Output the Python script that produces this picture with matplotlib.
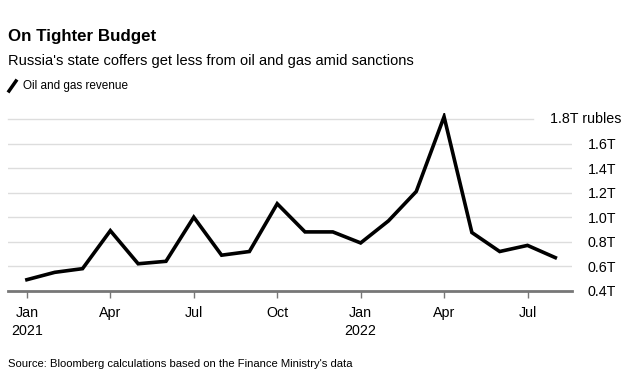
import matplotlib
matplotlib.use("Agg")
import matplotlib.pyplot as plt
from matplotlib.lines import Line2D

plt.rcParams['font.family'] = ['Liberation Sans', 'DejaVu Sans']

# Ingresos mensuales de petróleo y gas (billones de rublos), ene 2021 - ago 2022
meses = ['Jan 2021', 'Feb 2021', 'Mar 2021', 'Apr 2021', 'May 2021', 'Jun 2021',
         'Jul 2021', 'Aug 2021', 'Sep 2021', 'Oct 2021', 'Nov 2021', 'Dec 2021',
         'Jan 2022', 'Feb 2022', 'Mar 2022', 'Apr 2022', 'May 2022', 'Jun 2022',
         'Jul 2022', 'Aug 2022']
ingresos = [0.49, 0.55, 0.58, 0.89, 0.62, 0.64, 1.00, 0.69, 0.72, 1.11,
            0.88, 0.88, 0.79, 0.97, 1.21, 1.82, 0.875, 0.72, 0.77, 0.67]

ticks_x = [0, 3, 6, 9, 12, 15, 18]
etiquetas_x = ['Jan\n2021', 'Apr', 'Jul', 'Oct', 'Jan\n2022', 'Apr', 'Jul']
ticks_y = [0.4, 0.6, 0.8, 1.0, 1.2, 1.4, 1.6]
etiquetas_y = ['0.4T', '0.6T', '0.8T', '1.0T', '1.2T', '1.4T', '1.6T']

fig = plt.figure(figsize=(6.32, 3.87), dpi=100)
ax = fig.add_axes([8 / 632, 0.2488, 564 / 632, 0.459])

x = list(range(len(ingresos)))
ax.plot(x, ingresos, color='black', lw=2.6, solid_joinstyle='miter', zorder=3)

ax.set_xlim(-0.68, 19.6)
ax.set_ylim(0.4, 1.85)

# lineas de cuadricula
for v in ticks_y[1:]:
    ax.axhline(v, color='#dddddd', lw=1, zorder=1)
ax.plot([-0.68, 18.2], [1.8, 1.8], color='#dddddd', lw=1, zorder=1, clip_on=False)

for s in ['top', 'right', 'left']:
    ax.spines[s].set_visible(False)
ax.spines['bottom'].set_color('#777777')
ax.spines['bottom'].set_linewidth(2)

ax.set_xticks(ticks_x)
ax.set_xticklabels(etiquetas_x, fontsize=10.3, linespacing=1.35)
ax.tick_params(axis='x', length=5, width=1, color='#777777', pad=6)

ax.yaxis.tick_right()
ax.set_yticks(ticks_y)
ax.set_yticklabels(etiquetas_y, fontsize=10.3)
ax.tick_params(axis='y', length=0, pad=11.5)
fig.text(550 / 632, 1 - 119 / 387, '1.8T rubles', fontsize=10.3, ha='left', va='center')

# titulos
fig.text(8 / 632, 1 - 36 / 387, 'On Tighter Budget', fontsize=12.2, fontweight='bold', va='center')
fig.text(8 / 632, 1 - 61 / 387, "Russia's state coffers get less from oil and gas amid sanctions",
         fontsize=10.5, va='center')
fig.add_artist(Line2D([9 / 632, 16 / 632], [1 - 91 / 387, 1 - 81 / 387], color='black', lw=2.5))
fig.text(23 / 632, 1 - 86 / 387, 'Oil and gas revenue', fontsize=8.5, va='center')
fig.text(8 / 632, 1 - 364 / 387, "Source: Bloomberg calculations based on the Finance Ministry's data",
         fontsize=8.1, va='center')

fig.savefig('out.png', dpi=100)
